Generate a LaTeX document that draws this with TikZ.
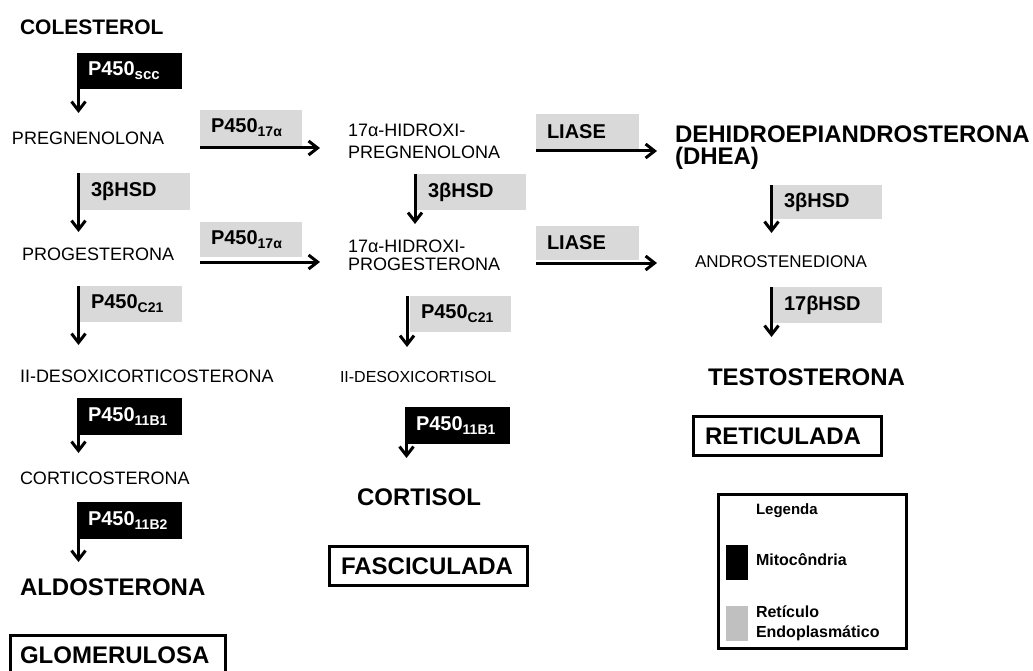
\documentclass[tikz,border=0pt]{standalone}
\usepackage{fontspec}
\setmainfont{Liberation Sans}
\usetikzlibrary{arrows.meta}
\definecolor{boxgray}{HTML}{D9D9D9}
\definecolor{leggray}{HTML}{C0C0C0}
\newcommand\sbs[2][14]{\raisebox{-4pt}{\fontsize{#1}{#1}\selectfont #2}}
\begin{document}
\begin{tikzpicture}[x=1pt,y=-1pt,
  every node/.style={inner sep=0pt, outer sep=0pt},
  cmp/.style={anchor=base west, font=\fontsize{18}{22}\selectfont},
  big/.style={anchor=base west, font=\bfseries\fontsize{24}{24}\selectfont},
  enz/.style={anchor=north west, inner xsep=11pt, inner ysep=0pt, align=left, font=\bfseries\fontsize{20}{20}\selectfont},
  mito/.style={enz, fill=black, text=white},
  er/.style={enz, fill=boxgray, text=black},
  zone/.style={draw, line width=3pt, anchor=north west, minimum height=39pt, align=left, font=\bfseries\fontsize{24}{24}\selectfont},
  arr/.style={line width=3pt, -{Straight Barb[length=9pt,width=14pt]}},
  lgt/.style={anchor=base west, align=left, font=\bfseries\fontsize{16}{20}\selectfont}
  ]
\fill[white] (0,0) rectangle (1033,671);
\useasboundingbox (0,0) rectangle (1033,671);

% compounds
\node[big, font=\bfseries\fontsize{21}{21}\selectfont] (col) at (20,35) {COLESTEROL};
\node[cmp] (preg) at (12,145) {PREGNENOLONA};
\node[cmp] (prog) at (22,260) {PROGESTERONA};
\node[cmp] (doc) at (20,382) {II-DESOXICORTICOSTERONA};
\node[cmp] (cort) at (20,484) {CORTICOSTERONA};
\node[big] (aldo) at (20,595) {ALDOSTERONA};

\node[cmp, align=left] (hpreg) at (348,159) {17α-HIDROXI-\\PREGNENOLONA};
\node[cmp, align=left, font=\fontsize{18}{18}\selectfont] (hprog) at (348,270) {17α-HIDROXI-\\PROGESTERONA};
\node[cmp, font=\fontsize{16}{16}\selectfont] (dsol) at (340,382) {II-DESOXICORTISOL};
\node[big] (cortisol) at (357,505) {CORTISOL};

\node[big, align=left, font=\bfseries\fontsize{24}{22}\selectfont] (dhea) at (675,165) {DEHIDROEPIANDROSTERONA\\(DHEA)};
\node[cmp, font=\fontsize{17}{17}\selectfont] (andro) at (695,267) {ANDROSTENEDIONA};
\node[big] (testo) at (708,385) {TESTOSTERONA};

% enzymes
\node[mito, minimum width=105pt, minimum height=36pt, text width=83pt] (e1) at (77,53) {P450\sbs[15]{scc}};
\node[er, minimum width=102pt, minimum height=36pt, text width=80pt] (e2) at (200,110) {P450\sbs{17α}};
\node[er, minimum width=110pt, minimum height=37pt, text width=88pt] (e3) at (80,173) {3βHSD};
\node[er, minimum width=102pt, minimum height=35pt, text width=80pt] (e4) at (200,222) {P450\sbs{17α}};
\node[er, minimum width=102pt, minimum height=36pt, text width=80pt] (e5) at (80,286) {P450\sbs{C21}};
\node[mito, minimum width=105pt, minimum height=37pt, text width=83pt] (e6) at (77,398) {P450\sbs{11B1}};
\node[mito, minimum width=105pt, minimum height=37pt, text width=83pt] (e7) at (77,502) {P450\sbs{11B2}};
\node[er, minimum width=103pt, minimum height=36pt, text width=81pt] (e8) at (536,114) {LIASE};
\node[er, minimum width=109pt, minimum height=36pt, text width=87pt] (e9) at (417,174) {3βHSD};
\node[er, minimum width=103pt, minimum height=34pt, text width=81pt] (e10) at (536,226) {LIASE};
\node[er, minimum width=101pt, minimum height=36pt, text width=79pt] (e11) at (410,296) {P450\sbs{C21}};
\node[mito, minimum width=105pt, minimum height=37pt, text width=83pt] (e12) at (405,407) {P450\sbs{11B1}};
\node[er, minimum width=109pt, minimum height=34pt, text width=87pt] (e13) at (773,185) {3βHSD};
\node[er, minimum width=109pt, minimum height=36pt, text width=87pt] (e14) at (773,287) {17βHSD};

% arrow end points
\coordinate (t1) at (78.5,113);
\coordinate (t3) at (78.5,232);
\coordinate (t5) at (78.5,345);
\coordinate (t6) at (78.5,453);
\coordinate (t7) at (78.5,562);
\coordinate (t9) at (415,224);
\coordinate (t11) at (407,347);
\coordinate (t12) at (406.5,458);
\coordinate (t13) at (771.5,233);
\coordinate (t14) at (771.5,337);
\coordinate (h2) at (320,148);
\coordinate (h4) at (320,262);
\coordinate (h8) at (657,151);
\coordinate (h10) at (657,263);

\draw[arr] (t1 |- e1.north) -- (t1);
\draw[arr] (t3 |- e3.north) -- (t3);
\draw[arr] (t5 |- e5.north) -- (t5);
\draw[arr] (t6 |- e6.north) -- (t6);
\draw[arr] (t7 |- e7.north) -- (t7);
\draw[arr] (t9 |- e9.north) -- (t9);
\draw[arr] (t11 |- e11.north) -- (t11);
\draw[arr] (t12 |- e12.north) -- (t12);
\draw[arr] (t13 |- e13.north) -- (t13);
\draw[arr] (t14 |- e14.north) -- (t14);
\draw[arr] (e2.west |- h2) -- (h2);
\draw[arr] (e4.west |- h4) -- (h4);
\draw[arr] (e8.west |- h8) -- (h8);
\draw[arr] (e10.west |- h10) -- (h10);

% zones
\node[zone, minimum width=215pt, inner xsep=9.5pt, text width=196pt] (glom) at (10.5,635.5) {GLOMERULOSA};
\node[zone, minimum width=198pt, inner xsep=11.5pt, text width=175pt] (fasc) at (329.5,546.5) {FASCICULADA};
\node[zone, minimum width=188pt, inner xsep=11.5pt, text width=165pt] (ret) at (693.5,416.5) {RETICULADA};

% legend
\node[draw, line width=3pt, anchor=north west, minimum width=188pt, minimum height=154pt] (leg) at (718.5,494.5) {};
\node[lgt, font=\bfseries\fontsize{15}{15}\selectfont] (legt) at (756,514) {Legenda};
\node[fill=black, anchor=north west, minimum width=22pt, minimum height=35pt] (lm) at (726,545) {};
\node[lgt] (lmt) at (756,565) {Mitocôndria};
\node[fill=leggray, anchor=north west, minimum width=22pt, minimum height=35pt] (lr) at (726,606) {};
\node[lgt] (lrt) at (756,637) {Retículo\\Endoplasmático};
\end{tikzpicture}
\end{document}
